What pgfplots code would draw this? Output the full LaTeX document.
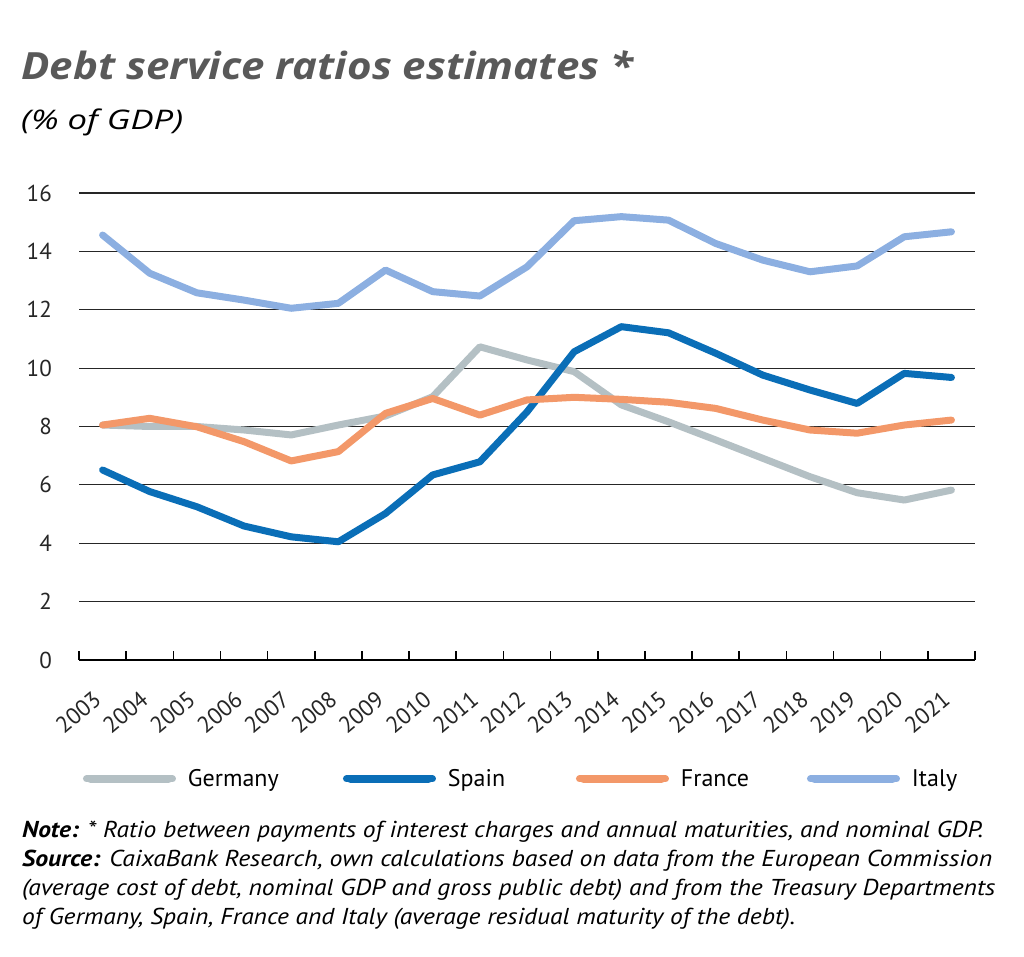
\documentclass[border=0pt]{standalone}
\usepackage{graphicx}
\usepackage{pgfplots}
\pgfplotsset{compat=1.18}
\usepackage{fontspec}
\setmainfont{PT Sans}
\newfontfamily\titlefont{Open Sans}
\definecolor{germany}{RGB}{180,192,196}
\definecolor{spain}{RGB}{10,110,183}
\definecolor{france}{RGB}{243,152,105}
\definecolor{italy}{RGB}{140,175,225}
\definecolor{titlegray}{RGB}{89,89,89}
\begin{document}
\begin{tikzpicture}[x=1pt,y=1pt]
\path[use as bounding box] (0,0) rectangle (1024,957);
\node[anchor=base west, inner sep=0pt, text=titlegray, font=\titlefont\fontsize{37.5}{44}\selectfont\bfseries\itshape] at (21,877) {\resizebox{612pt}{\height}{Debt service ratios estimates *}};
\node[anchor=base west, inner sep=0pt, font=\titlefont\fontsize{27}{32}\selectfont\itshape] at (21,827) {\resizebox{162pt}{\height}{(\% of GDP)}};
\begin{axis}[
  at={(79pt,297pt)}, anchor=south west,
  scale only axis, width=896pt, height=467pt,
  xmin=-0.5, xmax=18.5, ymin=0, ymax=16,
  ytick={0,2,...,16},
  xtick={0,...,18},
  xticklabels={2003,2004,2005,2006,2007,2008,2009,2010,2011,2012,2013,2014,2015,2016,2017,2018,2019,2020,2021},
  minor xtick={-0.5,0.5,...,18.5},
  axis x line=bottom, axis y line=left,
  x axis line style={-, line width=2pt, black},
  y axis line style={draw=none},
  ymajorgrids, major grid style={line width=1.2pt, black!85},
  major tick length=0pt, minor tick length=9pt,
  minor tick style={line width=1.6pt, black},
  tick align=inside,
  /pgf/number format/assume math mode=true,
  tick label style={font=\fontsize{23}{23}\selectfont, text=black!85},
  yticklabel style={inner sep=0pt, xshift=-27pt},
  xticklabel style={inner sep=0pt, xshift=-5pt, yshift=-36pt, rotate=40, anchor=east},
  legend columns=4,
  legend style={at={(0.00446,-0.2548)}, anchor=west, draw=none, fill=none, inner sep=0pt, outer sep=0pt,
    font=\fontsize{24}{24}\selectfont, nodes={inner sep=0pt},
    /tikz/every odd column/.style={column sep=12pt}},
  legend image code/.code={\path (0pt,0pt) -- (86pt,0pt); \draw[#1, line width=8pt, line cap=round] (4pt,0pt) -- (82pt,0pt);},
  every axis plot/.append style={line width=7pt, line cap=round, line join=round, mark=none},
]
\addplot[color=germany] coordinates {(0,8.05) (1,8.0) (2,8.0) (3,7.88) (4,7.71) (5,8.05) (6,8.36) (7,9.02) (8,10.73) (9,10.28) (10,9.88) (11,8.74) (12,8.16) (13,7.54) (14,6.91) (15,6.28) (16,5.73) (17,5.48) (18,5.82)};
\addlegendentry{\makebox[155pt][l]{Germany}}
\addplot[color=spain] coordinates {(0,6.51) (1,5.77) (2,5.25) (3,4.59) (4,4.22) (5,4.05) (6,5.02) (7,6.34) (8,6.79) (9,8.5) (10,10.56) (11,11.42) (12,11.21) (13,10.51) (14,9.76) (15,9.25) (16,8.79) (17,9.82) (18,9.68)};
\addlegendentry{\makebox[128pt][l]{Spain}}
\addplot[color=france] coordinates {(0,8.05) (1,8.28) (2,7.99) (3,7.48) (4,6.82) (5,7.14) (6,8.45) (7,8.96) (8,8.39) (9,8.91) (10,9.00) (11,8.93) (12,8.83) (13,8.62) (14,8.22) (15,7.88) (16,7.77) (17,8.05) (18,8.22)};
\addlegendentry{\makebox[126pt][l]{France}}
\addplot[color=italy] coordinates {(0,14.56) (1,13.25) (2,12.58) (3,12.33) (4,12.05) (5,12.22) (6,13.36) (7,12.62) (8,12.47) (9,13.47) (10,15.05) (11,15.19) (12,15.07) (13,14.27) (14,13.70) (15,13.30) (16,13.50) (17,14.50) (18,14.67)};
\addlegendentry{Italy}
\end{axis}
\begin{scope}[every node/.style={anchor=base west, inner sep=0pt, font=\fontsize{23}{23}\selectfont\itshape}]
\node at (22,119) {\resizebox{961pt}{\height}{\textbf{Note:} * Ratio between payments of interest charges and annual maturities, and nominal GDP.}};
\node at (22,90) {\resizebox{970pt}{\height}{\textbf{Source:} CaixaBank Research, own calculations based on data from the European Commission}};
\node at (22,61) {\resizebox{973pt}{\height}{(average cost of debt, nominal GDP and gross public debt) and from the Treasury Departments}};
\node at (22,32) {\resizebox{773pt}{\height}{of Germany, Spain, France and Italy (average residual maturity of the debt).}};
\end{scope}
\end{tikzpicture}
\end{document}
